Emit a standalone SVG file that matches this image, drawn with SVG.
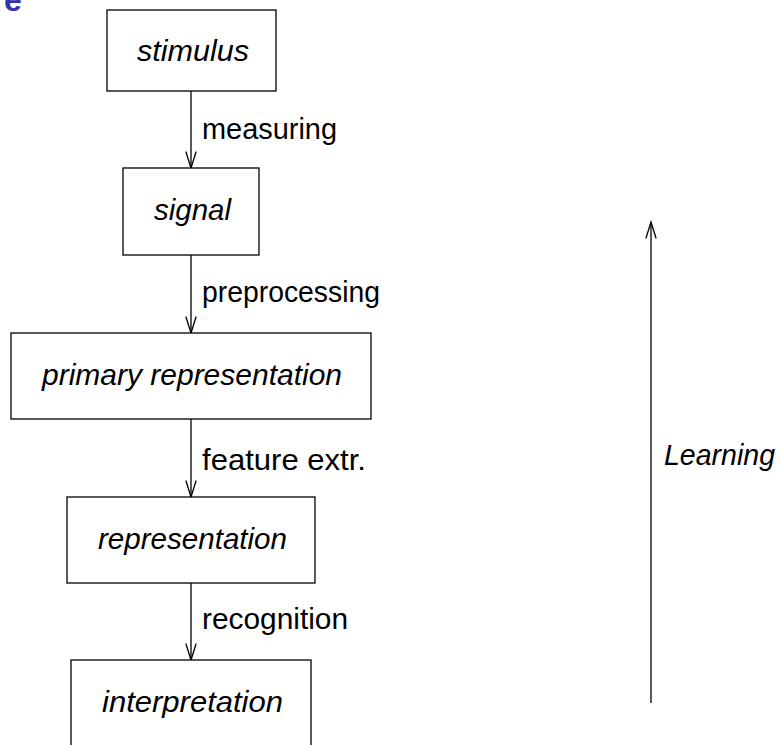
<svg xmlns="http://www.w3.org/2000/svg" width="778" height="745" viewBox="0 0 778 745">
<style>
.box{fill:#fff;stroke:#000;stroke-width:1.3}
.nt{font-family:"Liberation Sans","DejaVu Sans",sans-serif;font-style:italic;font-size:29px;fill:#000;text-anchor:start}
.lt{font-family:"Liberation Sans","DejaVu Sans",sans-serif;font-size:29px;fill:#000}
.ln{stroke:#000;stroke-width:1.3;fill:none}
.ah{stroke:#000;stroke-width:1.3;fill:none;stroke-linecap:round}
</style>
<rect width="778" height="745" fill="#fff"/>
<text x="4" y="11" font-family="Liberation Sans,DejaVu Sans,sans-serif" font-weight="bold" font-size="32" fill="#3333b3">e</text>
<g id="connectors">
<line class="ln" x1="191" y1="91" x2="191" y2="168"/>
<path class="ah" d="M186 152 L191 168 L196 152"/>
<line class="ln" x1="191" y1="255" x2="191" y2="333"/>
<path class="ah" d="M186 317 L191 333 L196 317"/>
<line class="ln" x1="191" y1="419" x2="191" y2="497"/>
<path class="ah" d="M186 481 L191 497 L196 481"/>
<line class="ln" x1="191" y1="583" x2="191" y2="660"/>
<path class="ah" d="M186 644 L191 660 L196 644"/>
<text class="lt" x="202" y="139" textLength="135" lengthAdjust="spacingAndGlyphs">measuring</text>
<text class="lt" x="202" y="302" textLength="178" lengthAdjust="spacingAndGlyphs">preprocessing</text>
<text class="lt" x="202" y="470" textLength="164" lengthAdjust="spacingAndGlyphs">feature extr.</text>
<text class="lt" x="202" y="629" textLength="146" lengthAdjust="spacingAndGlyphs">recognition</text>
<line class="ln" x1="651" y1="222" x2="651" y2="703"/>
<path class="ah" d="M646 238 L651 222 L656 238"/>
</g>
<g id="learning">
<text class="nt" x="664" y="465" textLength="111" lengthAdjust="spacingAndGlyphs">Learning</text>
</g>
<g id="stimulus">
<rect class="box" x="107" y="10" width="169" height="81"/>
<text class="nt" x="137" y="61" textLength="112" lengthAdjust="spacingAndGlyphs">stimulus</text>
</g>
<g id="signal">
<rect class="box" x="123" y="168" width="136" height="87"/>
<text class="nt" x="154" y="220" textLength="77" lengthAdjust="spacingAndGlyphs">signal</text>
</g>
<g id="primary">
<rect class="box" x="11" y="333" width="360" height="86"/>
<text class="nt" x="42" y="385" textLength="300" lengthAdjust="spacingAndGlyphs">primary representation</text>
</g>
<g id="representation">
<rect class="box" x="67" y="497" width="248" height="86"/>
<text class="nt" x="98" y="549" textLength="189" lengthAdjust="spacingAndGlyphs">representation</text>
</g>
<g id="interpretation">
<rect class="box" x="71" y="660" width="240" height="100"/>
<text class="nt" x="102" y="712" textLength="181" lengthAdjust="spacingAndGlyphs">interpretation</text>
</g>
</svg>
